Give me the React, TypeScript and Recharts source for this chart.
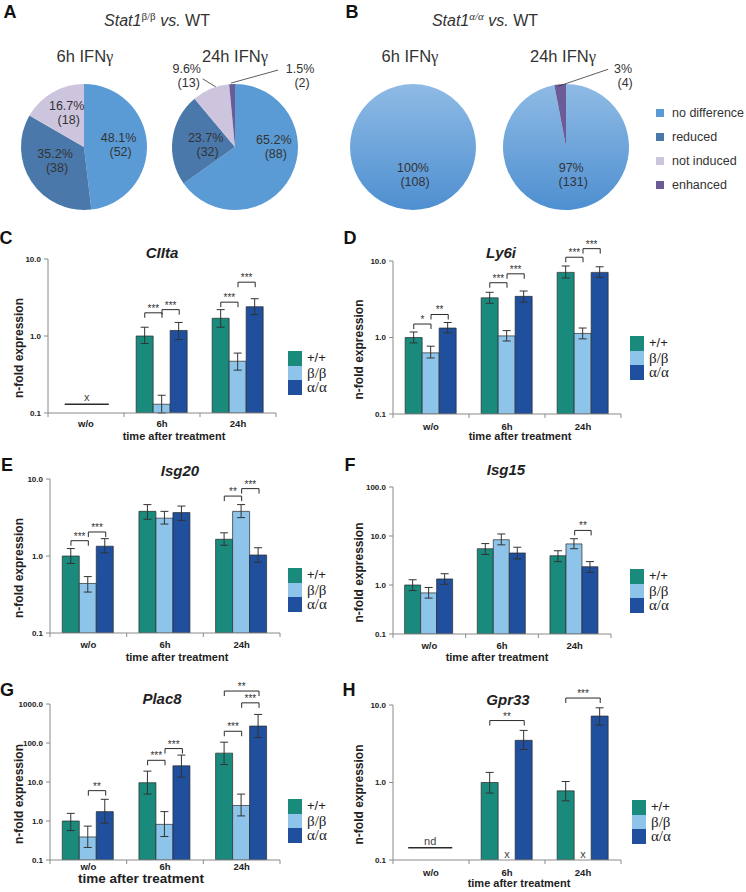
import React from 'react'
import {
  ComposedChart,
  Bar,
  ErrorBar,
  XAxis,
  YAxis,
  ReferenceLine,
  ReferenceDot,
  Legend,
  PieChart,
  Pie,
  Cell,
} from 'recharts'

const SANS = '"Liberation Sans", Arial, Helvetica, sans-serif'
const SERIF = '"Liberation Serif", "Times New Roman", serif'
const INK = '#2a2a2a'
const AXIS = '#8a8a8a'

// ---------- A / B: pie data (number of genes per class)
const pieCategories = ['no difference', 'reduced', 'not induced', 'enhanced']
const pieColors = ['#5b9bd5', '#4a78aa', '#cdc4dd', '#6b5b96']
const betaCounts6h = [52, 38, 18, 0]
const betaCounts24h = [88, 32, 13, 2]
const alphaCounts6h = [108, 0, 0, 0]
const alphaCounts24h = [131, 0, 0, 4]

// ---------- C-H: qPCR bars
const times = ['w/o', '6h', '24h']
const genotypes = ['+/+', 'β/β', 'α/α']
const barColors = ['#1a8a7d', '#8ec4ea', '#1f4f9d']

const ticks10 = [0.1, 1, 10]
const ticks100 = [0.1, 1, 10, 100]
const ticks1000 = [0.1, 1, 10, 100, 1000]

// rows = genotype, columns = time point
const ciitaMean = [[null, 1.0, 1.7], [null, 0.13, 0.47], [null, 1.18, 2.4]]
const ciitaLow = [[null, 0.8, 1.3], [null, 0.1, 0.36], [null, 0.9, 1.9]]
const ciitaHigh = [[null, 1.3, 2.2], [null, 0.17, 0.6], [null, 1.5, 3.05]]
const ciitaSig = [
  { t: 1, a: 0, b: 1, y: 2.0, s: '***' },
  { t: 1, a: 1, b: 2, y: 2.2, s: '***' },
  { t: 2, a: 0, b: 1, y: 2.75, s: '***' },
  { t: 2, a: 1, b: 2, y: 5.0, s: '***' },
]
const ciitaNotes = [{ t: 0, from: 0.22, to: 0.8, y: 0.13, text: 'x' }]

const ly6iMean = [[1.0, 3.3, 7.1], [0.63, 1.05, 1.13], [1.33, 3.45, 7.1]]
const ly6iLow = [[0.85, 2.8, 6.0], [0.54, 0.9, 0.96], [1.15, 2.9, 6.1]]
const ly6iHigh = [[1.18, 3.9, 8.6], [0.77, 1.23, 1.33], [1.57, 4.05, 8.4]]
const ly6iSig = [
  { t: 0, a: 0, b: 1, y: 1.5, s: '*' },
  { t: 0, a: 1, b: 2, y: 2.0, s: '**' },
  { t: 1, a: 0, b: 1, y: 5.2, s: '***' },
  { t: 1, a: 1, b: 2, y: 6.8, s: '***' },
  { t: 2, a: 0, b: 1, y: 11.2, s: '***' },
  { t: 2, a: 1, b: 2, y: 14.5, s: '***' },
]

const isg20Mean = [[1.0, 3.8, 1.65], [0.44, 3.1, 3.8], [1.34, 3.66, 1.03]]
const isg20Low = [[0.8, 3.0, 1.38], [0.34, 2.6, 3.15], [1.1, 2.9, 0.83]]
const isg20High = [[1.25, 4.65, 2.0], [0.54, 3.8, 4.65], [1.68, 4.45, 1.28]]
const isg20Sig = [
  { t: 0, a: 0, b: 1, y: 1.58, s: '***' },
  { t: 0, a: 1, b: 2, y: 2.05, s: '***' },
  { t: 2, a: 0, b: 1, y: 6.0, s: '**' },
  { t: 2, a: 1, b: 2, y: 7.5, s: '***' },
]

const isg15Mean = [[1.0, 5.5, 3.96], [0.69, 8.4, 6.9], [1.33, 4.5, 2.36]]
const isg15Low = [[0.77, 4.2, 3.0], [0.54, 6.6, 5.5], [1.03, 3.4, 1.8]]
const isg15High = [[1.28, 7.0, 5.0], [0.89, 11, 8.8], [1.7, 5.9, 3.0]]
const isg15Sig = [{ t: 2, a: 1, b: 2, y: 13, s: '**' }]

const plac8Mean = [[1.0, 9.6, 55], [0.39, 0.82, 2.5], [1.74, 26, 272]]
const plac8Low = [[0.57, 4.9, 28], [0.21, 0.4, 1.35], [0.88, 13.3, 138]]
const plac8High = [[1.57, 19, 105], [0.74, 1.74, 4.9], [3.6, 49, 540]]
const plac8Sig = [
  { t: 0, a: 1, b: 2, y: 6.0, s: '**' },
  { t: 1, a: 0, b: 1, y: 36, s: '***' },
  { t: 1, a: 1, b: 2, y: 72, s: '***' },
  { t: 2, a: 0, b: 1, y: 200, s: '***' },
  { t: 2, a: 1, b: 2, y: 1070, s: '***' },
  { t: 2, a: 0, b: 2, y: 2150, s: '**' },
]

const gpr33Mean = [[null, 1.0, 0.78], [null, null, null], [null, 3.5, 7.2]]
const gpr33Low = [[null, 0.73, 0.58], [null, null, null], [null, 2.67, 5.5]]
const gpr33High = [[null, 1.35, 1.03], [null, null, null], [null, 4.7, 9.2]]
const gpr33Sig = [
  { t: 1, a: 0, b: 2, y: 6.3, s: '**' },
  { t: 2, a: 0, b: 2, y: 12.3, s: '***' },
]
const gpr33Notes = [
  { t: 0, from: 0.2, to: 0.78, y: 0.144, text: 'nd' },
  { t: 1, g: 1, y: 0.119, text: 'x' },
  { t: 2, g: 1, y: 0.119, text: 'x' },
]

// ---------- layout (page pixels)
const GAP = 0.16
const BAR_FRAC = (1 - 2 * GAP) / 3
const LEG_PX = 5

const geo = {
  ciita: { left: 0, top: 225, width: 373, height: 220, plotLeft: 48, plotRight: 276, plotTop: 259, plotBottom: 413, tickGap: 10, titleGap: 23, titleDx: 12, titleSize: 11, legendX: 288, legendY: 351, gx: 162, gy: 252 },
  ly6i: { left: 340, top: 225, width: 406, height: 220, plotLeft: 393, plotRight: 621, plotTop: 261, plotBottom: 414, tickGap: 12, titleGap: 22, titleDx: 13, titleSize: 11, legendX: 630, legendY: 336, gx: 501, gy: 252 },
  isg20: { left: 0, top: 455, width: 373, height: 210, plotLeft: 50, plotRight: 280, plotTop: 479, plotBottom: 633, tickGap: 11, titleGap: 24, titleDx: 12, titleSize: 11, legendX: 288, legendY: 568, gx: 180, gy: 470 },
  isg15: { left: 340, top: 455, width: 406, height: 210, plotLeft: 393, plotRight: 611, plotTop: 487, plotBottom: 634, tickGap: 11, titleGap: 23, titleDx: -5, titleSize: 11, legendX: 630, legendY: 569, gx: 506, gy: 469 },
  plac8: { left: 0, top: 670, width: 373, height: 222, plotLeft: 50, plotRight: 280, plotTop: 704, plotBottom: 860, tickGap: 6, titleGap: 18, titleDx: -24, titleSize: 13.5, legendX: 288, legendY: 799, gx: 162, gy: 698 },
  gpr33: { left: 340, top: 670, width: 406, height: 222, plotLeft: 393, plotRight: 621, plotTop: 705, plotBottom: 860, tickGap: 12, titleGap: 23, titleDx: 12, titleSize: 11, legendX: 632, legendY: 800, gx: 508, gy: 699 },
}

const barX = (t: number, g: number) => t + 0.5 + (g - 1) * BAR_FRAC

function GenotypeLegend() {
  return (
    <div>
      {genotypes.map((g, i) => (
        <div key={g} style={{ display: 'flex', alignItems: 'center', height: 14.5 }}>
          <div style={{ width: 14, height: 14.5, background: barColors[i] }} />
          <span
            style={{
              marginLeft: 5,
              fontFamily: i === 0 ? SANS : SERIF,
              fontSize: i === 0 ? 13 : 15,
              color: '#222',
              lineHeight: '14px',
            }}
          >
            {g}
          </span>
        </div>
      ))}
    </div>
  )
}

function BarPanel({ g, gene, mean, low, high, sig, notes = [], yTicks }: any) {
  const rows = times.map((t, i) => {
    const row: any = { t, pos: i + 0.5 }
    genotypes.forEach((_, k) => {
      const v = mean[k][i]
      row['g' + k] = v
      row['e' + k] = v == null ? null : [v - low[k][i], high[k][i] - v]
    })
    return row
  })
  const yMin = yTicks[0]
  const yMax = yTicks[yTicks.length - 1]
  const yw = g.plotLeft - g.left
  const mt = g.plotTop - g.top
  const mr = g.left + g.width - g.plotRight
  const xh = g.top + g.height - g.plotBottom
  const decades = Math.log10(yMax / yMin)
  const leg = Math.pow(10, (-LEG_PX * decades) / (g.plotBottom - g.plotTop))

  const marks: React.ReactNode[] = []
  sig.forEach((s: any, i: number) => {
    const x1 = barX(s.t, s.a)
    const x2 = barX(s.t, s.b)
    const common = { xAxisId: 'num', stroke: INK, strokeWidth: 1, ifOverflow: 'visible' as const }
    marks.push(<ReferenceLine key={'h' + i} {...common} segment={[{ x: x1, y: s.y }, { x: x2, y: s.y }]} />)
    marks.push(<ReferenceLine key={'a' + i} {...common} segment={[{ x: x1, y: s.y }, { x: x1, y: s.y * leg }]} />)
    marks.push(<ReferenceLine key={'b' + i} {...common} segment={[{ x: x2, y: s.y }, { x: x2, y: s.y * leg }]} />)
    marks.push(
      <ReferenceDot
        key={'s' + i}
        xAxisId="num"
        x={(x1 + x2) / 2}
        y={s.y}
        r={0}
        fill="none"
        stroke="none"
        ifOverflow="visible"
        label={{ value: s.s, position: 'top', offset: 1, fill: '#333', fontSize: 10, fontFamily: SANS }}
      />
    )
  })
  notes.forEach((n: any, i: number) => {
    if (n.from != null) {
      marks.push(
        <ReferenceLine
          key={'nl' + i}
          xAxisId="num"
          segment={[{ x: n.t + n.from, y: n.y }, { x: n.t + n.to, y: n.y }]}
          stroke={INK}
          strokeWidth={1.5}
          ifOverflow="visible"
        />
      )
      marks.push(
        <ReferenceDot
          key={'nt' + i}
          xAxisId="num"
          x={n.t + (n.from + n.to) / 2}
          y={n.y}
          r={0}
          fill="none"
          stroke="none"
          ifOverflow="visible"
          label={{ value: n.text, position: 'top', offset: 3, fill: '#444', fontSize: 11, fontFamily: SANS }}
        />
      )
    } else {
      marks.push(
        <ReferenceDot
          key={'nx' + i}
          xAxisId="num"
          x={barX(n.t, n.g)}
          y={n.y}
          r={0}
          fill="none"
          stroke="none"
          ifOverflow="visible"
          label={{ value: n.text, position: 'center', fill: '#444', fontSize: 11, fontFamily: SANS }}
        />
      )
    }
  })

  const boundaryTick = (p: any) => {
    const v = p.payload?.value
    if (Number.isInteger(v)) {
      return <line x1={p.x} x2={p.x} y1={p.y} y2={p.y + 4} stroke={AXIS} />
    }
    return (
      <text
        x={p.x}
        y={p.y + g.tickGap}
        textAnchor="middle"
        dominantBaseline="central"
        style={{ fontFamily: SANS, fontWeight: 700, fontSize: 9.5, fill: '#222' }}
      >
        {times[Math.floor(v)]}
      </text>
    )
  }

  return (
    <>
      <div
        style={{
          position: 'absolute',
          left: g.gx,
          top: g.gy,
          transform: 'translate(-50%, -50%)',
          fontFamily: SANS,
          fontWeight: 700,
          fontStyle: 'italic',
          fontSize: 15,
          color: '#222',
          whiteSpace: 'nowrap',
        }}
      >
        {gene}
      </div>
      <div style={{ position: 'absolute', left: g.left, top: g.top }}>
        <ComposedChart
          width={g.width}
          height={g.height}
          data={rows}
          margin={{ top: mt, right: mr, bottom: 0, left: 0 }}
          barCategoryGap={`${GAP * 100}%`}
          barGap={0}
        >
          <XAxis xAxisId="num" dataKey="pos" type="number" domain={[0, 3]}
            ticks={[0, 0.5, 1, 1.5, 2, 2.5, 3]}
            interval={0}
            allowDataOverflow
            height={xh}
            tickLine={false}
            tickSize={0}
            tickMargin={0}
            axisLine={{ stroke: AXIS }}
            tick={boundaryTick}
            label={{
              content: (p: any) => {
                const vb = p.viewBox
                if (!vb) return null
                return (
                  <text
                    x={vb.x + vb.width / 2 + g.titleDx}
                    y={vb.y + g.titleGap}
                    textAnchor="middle"
                    dominantBaseline="central"
                    style={{ fontFamily: SANS, fontWeight: 700, fontSize: g.titleSize, fill: '#222' }}
                  >
                    time after treatment
                  </text>
                )
              },
            }}
          />
          <XAxis xAxisId="cat" dataKey="t" hide height={0} />
          <YAxis
            type="number"
            scale="log"
            domain={[yMin, yMax]}
            ticks={yTicks}
            interval={0}
            allowDataOverflow
            width={yw}
            tickSize={4}
            tickMargin={3}
            axisLine={{ stroke: AXIS }}
            tickLine={{ stroke: AXIS }}
            tickFormatter={(v: number) => v.toFixed(1)}
            tick={{ fontFamily: SANS, fontWeight: 700, fontSize: 8, fill: '#222' }}
            label={{
              content: (p: any) => {
                const vb = p.viewBox
                if (!vb) return null
                const x = vb.x + 19
                const y = vb.y + vb.height / 2 + 12
                return (
                  <text
                    x={x}
                    y={y}
                    transform={`rotate(-90 ${x} ${y})`}
                    textAnchor="middle"
                    dominantBaseline="central"
                    style={{ fontFamily: SANS, fontWeight: 700, fontSize: 12, fill: '#222' }}
                  >
                    n-fold expression
                  </text>
                )
              },
            }}
          />
          {genotypes.map((name, k) => (
            <Bar
              key={name}
              xAxisId="cat"
              dataKey={'g' + k}
              name={name}
              fill={barColors[k]}
              stroke={INK}
              strokeWidth={0.7}
              isAnimationActive={false}
            >
              <ErrorBar dataKey={'e' + k} width={4} stroke="#333" strokeWidth={1} isAnimationActive={false} />
            </Bar>
          ))}
          {marks}
          <Legend
            layout="vertical"
            align="center"
            verticalAlign="middle"
            wrapperStyle={{ left: g.legendX - g.left, top: g.legendY - g.top, width: 70 }}
            content={() => <GenotypeLegend />}
          />
        </ComposedChart>
      </div>
    </>
  )
}

// ---------- pies
const RAD = Math.PI / 180
type LabelPos = { r?: number; dx?: number; dy?: number; out?: number[] }

const pieLabelPos: Record<string, Record<string, LabelPos>> = {
  a6: {
    'no difference': { r: 0.55 },
    reduced: { r: 0.55, dy: -5 },
    'not induced': { r: 0.55, dy: -4 },
  },
  a24: {
    'no difference': { r: 0.55, dx: 8, dy: -16 },
    reduced: { r: 0.55, dx: 5, dy: 2 },
    'not induced': { out: [5, -2, -8, -10, -24, -13] },
    enhanced: { out: [-1, -1, 46, -14, 68, -8] },
  },
  b6: { 'no difference': { r: 0.55, dy: -7 } },
  b24: {
    'no difference': { r: 0.55, dx: 2, dy: -7 },
    enhanced: { out: [-2, 2, 48, -15, 63, -8] },
  },
}

const pieRows = (counts: number[]) =>
  counts.map((value, k) => ({ name: pieCategories[k], value, k })).filter((r) => r.value > 0)

function makePieLabel(pos: Record<string, LabelPos>, counts: number[], digits: number) {
  const total = counts.reduce((a, b) => a + b, 0)
  return (p: any) => {
    const name = p.payload?.name ?? p.name
    const value = p.payload?.value ?? p.value
    const cfg = pos[name] || {}
    const pct = ((value / total) * 100).toFixed(digits) + '%'
    const ang = -p.midAngle * RAD
    const style = { fontFamily: SANS, fontSize: 12.5, fill: '#333' }
    if (cfg.out) {
      const ex = p.cx + p.outerRadius * Math.cos(ang)
      const ey = p.cy + p.outerRadius * Math.sin(ang)
      const [sx, sy, lx, ly, tx, ty] = cfg.out
      return (
        <g key={name}>
          <line x1={ex + sx} y1={ey + sy} x2={ex + lx} y2={ey + ly} stroke="#333" strokeWidth={0.8} />
          <text x={ex + tx} y={ey + ty - 7} textAnchor="middle" dominantBaseline="central" style={style}>
            {pct}
          </text>
          <text x={ex + tx + 2} y={ey + ty + 7} textAnchor="middle" dominantBaseline="central" style={style}>
            ({value})
          </text>
        </g>
      )
    }
    const rr = p.outerRadius * (cfg.r ?? 0.55)
    const x = p.cx + rr * Math.cos(ang) + (cfg.dx ?? 0)
    const y = p.cy + rr * Math.sin(ang) + (cfg.dy ?? 0)
    return (
      <g key={name}>
        <text x={x} y={y - 7} textAnchor="middle" dominantBaseline="central" style={style}>
          {pct}
        </text>
        <text x={x + 2} y={y + 7} textAnchor="middle" dominantBaseline="central" style={style}>
          ({value})
        </text>
      </g>
    )
  }
}

function PieClassLegend() {
  return (
    <div>
      {pieCategories.map((c, i) => (
        <div key={c} style={{ display: 'flex', alignItems: 'center', height: 24 }}>
          <div style={{ width: 8, height: 8, background: pieColors[i] }} />
          <span style={{ marginLeft: 8, fontFamily: SANS, fontSize: 12.5, color: '#333', whiteSpace: 'nowrap' }}>{c}</span>
        </div>
      ))}
    </div>
  )
}

function PieGroup({ left, width, counts6, counts24, pos6, pos24, digits, cx6, cx24, gradient, legend }: any) {
  const rows6 = pieRows(counts6)
  const rows24 = pieRows(counts24)
  const fillOf = (k: number) => (gradient && k === 0 ? `url(#${gradient})` : pieColors[k])
  return (
    <div style={{ position: 'absolute', left, top: 0 }}>
      <PieChart width={width} height={230} margin={{ top: 0, right: 0, bottom: 0, left: 0 }}>
        <defs>
          <linearGradient id="gradB" x1="0" y1="0" x2="0" y2="1">
            <stop offset="0%" stopColor="#8fbbe5" />
            <stop offset="100%" stopColor="#4e8fd0" />
          </linearGradient>
        </defs>
        <Pie
          data={rows6}
          dataKey="value"
          nameKey="name"
          cx={cx6}
          cy={147}
          outerRadius={63}
          startAngle={90}
          endAngle={-270}
          stroke="none"
          isAnimationActive={false}
          labelLine={false}
          label={makePieLabel(pos6, counts6, digits)}
        >
          {rows6.map((r) => (
            <Cell key={r.name} fill={fillOf(r.k)} />
          ))}
        </Pie>
        <Pie
          data={rows24}
          dataKey="value"
          nameKey="name"
          cx={cx24}
          cy={147}
          outerRadius={63}
          startAngle={90}
          endAngle={-270}
          stroke="none"
          isAnimationActive={false}
          labelLine={false}
          label={makePieLabel(pos24, counts24, digits)}
        >
          {rows24.map((r) => (
            <Cell key={r.name} fill={fillOf(r.k)} />
          ))}
        </Pie>
        {legend && (
          <Legend
            layout="vertical"
            align="center"
            verticalAlign="middle"
            wrapperStyle={{ left: 656 - left, top: 101, width: 100 }}
            content={() => <PieClassLegend />}
          />
        )}
      </PieChart>
    </div>
  )
}

const Abs = ({ x, y, style, children }: any) => (
  <div
    style={{
      position: 'absolute',
      left: x,
      top: y,
      transform: 'translate(-50%, -50%)',
      whiteSpace: 'nowrap',
      fontFamily: SANS,
      color: '#222',
      ...style,
    }}
  >
    {children}
  </div>
)

const letterStyle = { fontWeight: 700, fontSize: 18, color: '#111' }
const pieTitle = { fontSize: 16.5, color: '#333' }

export default function App() {
  return (
    <div style={{ position: 'absolute', left: 0, top: 0, width: 746, height: 892, background: '#fff', overflow: 'hidden' }}>
      {/* A / B */}
      <Abs x={10} y={12} style={letterStyle}>A</Abs>
      <Abs x={352} y={12} style={letterStyle}>B</Abs>
      <Abs x={157} y={20} style={{ fontSize: 16, color: '#333' }}>
        <i>Stat1</i>
        <sup style={{ fontFamily: SERIF, fontSize: 11 }}>β/β</sup> <i>vs.</i> WT
      </Abs>
      <Abs x={485} y={20} style={{ fontSize: 16, color: '#333' }}>
        <i>Stat1</i>
        <sup style={{ fontFamily: SERIF, fontSize: 11, fontStyle: 'italic' }}>α/α</sup> <i>vs.</i> WT
      </Abs>
      <Abs x={85} y={57} style={pieTitle}>6h IFN<span style={{ fontFamily: SERIF }}>γ</span></Abs>
      <Abs x={235} y={57} style={pieTitle}>24h IFN<span style={{ fontFamily: SERIF }}>γ</span></Abs>
      <Abs x={410} y={57} style={pieTitle}>6h IFN<span style={{ fontFamily: SERIF }}>γ</span></Abs>
      <Abs x={563} y={57} style={pieTitle}>24h IFN<span style={{ fontFamily: SERIF }}>γ</span></Abs>

      <PieGroup left={0} width={340} counts6={betaCounts6h} counts24={betaCounts24h} pos6={pieLabelPos.a6} pos24={pieLabelPos.a24} digits={1} cx6={84} cx24={235} />
      <PieGroup left={340} width={406} counts6={alphaCounts6h} counts24={alphaCounts24h} pos6={pieLabelPos.b6} pos24={pieLabelPos.b24} digits={0} cx6={73} cx24={226} gradient="gradB" legend />

      {/* C-H */}
      <Abs x={6} y={238} style={letterStyle}>C</Abs>
      <Abs x={350} y={238} style={letterStyle}>D</Abs>
      <Abs x={7} y={465} style={letterStyle}>E</Abs>
      <Abs x={350} y={465} style={letterStyle}>F</Abs>
      <Abs x={7} y={690} style={letterStyle}>G</Abs>
      <Abs x={349} y={690} style={letterStyle}>H</Abs>

      <BarPanel g={geo.ciita} gene="CIIta" mean={ciitaMean} low={ciitaLow} high={ciitaHigh} sig={ciitaSig} notes={ciitaNotes} yTicks={ticks10} />
      <BarPanel g={geo.ly6i} gene="Ly6i" mean={ly6iMean} low={ly6iLow} high={ly6iHigh} sig={ly6iSig} yTicks={ticks10} />
      <BarPanel g={geo.isg20} gene="Isg20" mean={isg20Mean} low={isg20Low} high={isg20High} sig={isg20Sig} yTicks={ticks10} />
      <BarPanel g={geo.isg15} gene="Isg15" mean={isg15Mean} low={isg15Low} high={isg15High} sig={isg15Sig} yTicks={ticks100} />
      <BarPanel g={geo.plac8} gene="Plac8" mean={plac8Mean} low={plac8Low} high={plac8High} sig={plac8Sig} yTicks={ticks1000} />
      <BarPanel g={geo.gpr33} gene="Gpr33" mean={gpr33Mean} low={gpr33Low} high={gpr33High} sig={gpr33Sig} notes={gpr33Notes} yTicks={ticks10} />
    </div>
  )
}
